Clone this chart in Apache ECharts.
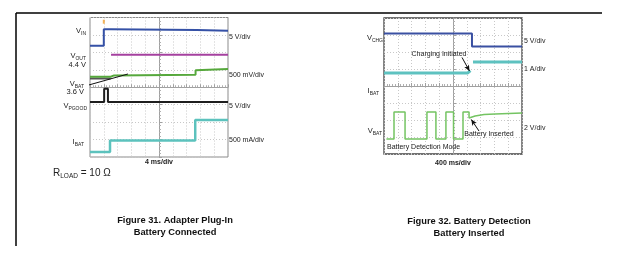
<!DOCTYPE html>
<html><head><meta charset="utf-8">
<script src="https://cdn.jsdelivr.net/npm/echarts@6/dist/echarts.min.js"></script>
<style>html,body{margin:0;padding:0;background:#fff}#c{width:620px;height:266px}</style>
</head><body><div id="c"></div>
<script>
// ---- Figure 31 : x = ms from screen centre (4 ms/div), y = divisions from centre ----
const f31_VIN = [[-20,2.38],[-16,2.38],[-16,3.32],[-14,3.32],[-14,3.28],[11,3.28],[11,3.24],[20,3.24]];
const f31_TRIG = [[-16,3.76]];
const f31_VOUT = [[-13.9,1.86],[20,1.86]];
const f31_VBAT_SHADOW = [[-20,0.5],[-14,0.5]];
const f31_VBAT = [[-20,0.6],[-14,0.6],[-13,0.68],[10.6,0.72],[10.6,0.98],[20,1.05]];
const f31_VPGOOD = [[-20,-0.85],[-15.9,-0.85],[-15.9,-0.08],[-14.8,-0.08],[-14.8,-0.85],[20,-0.85]];
const f31_IBAT = [[-20,-3.71],[-14.2,-3.71],[-14.2,-3.05],[10.5,-3.05],[10.5,-1.88],[20,-1.88]];
const f31_POINTER = [[-21.4,0.07],[-9,0.76]];
const f31_LEFT = ['V|IN','V|OUT','4.4 V','V|BAT','3.6 V','V|PGOOD','I|BAT'];
const f31_RIGHT = ['5 V/div','500 mV/div','5 V/div','500 mA/div'];
const f31_TIMEBASE = '4 ms/div';

// ---- Figure 32 : x = ms from screen centre (400 ms/div) ----
const f32_VCHG = [[-2000,3.09],[550,3.09],[550,2.32],[2000,2.32]];
const f32_IBAT_BEFORE = [[-2000,0.76],[430,0.77],[505,0.9]];
const f32_IBAT_AFTER = [[580,1.41],[2000,1.41]];
const f32_VBAT = [[-1930,-3.12],[-1710,-3.12],[-1710,-1.53],[-1390,-1.53],[-1390,-3.12],[-755,-3.12],[-755,-1.53],[-495,-1.53],[-495,-3.12],[-205,-3.12],[-205,-1.53],[15,-1.53],[15,-3.12],[290,-3.12],[290,-1.53],[465,-1.53],[465,-1.88],[640,-1.76],[900,-1.68],[1220,-1.64],[2000,-1.59]];
const f32_ARROW_CHG = [[261,1.68],[478,0.88]];
const f32_ARROW_INS = [[754,-2.65],[530,-1.97]];
const f32_LEFT = ['V|CHG','I|BAT','V|BAT'];
const f32_RIGHT = ['5 V/div','1 A/div','2 V/div'];
const f32_TIMEBASE = '400 ms/div';
const f32_NOTES = ['Charging Initiated','Battery Inserted','Battery Detection Mode'];

const CAPTIONS = [['Figure 31. Adapter Plug-In','Battery Connected'],['Figure 32. Battery Detection','Battery Inserted']];

const FONT = 'Liberation Sans, Arial, sans-serif';
const chart = echarts.init(document.getElementById('c'));

function axisX(idx, lim, iv){
  return {gridIndex:idx,type:'value',min:-lim,max:lim,interval:iv,
    axisLine:{show:true,onZero:true,lineStyle:{color:'#a0a0a0',width:1}},
    axisTick:{show:true,inside:true,length:3,lineStyle:{color:'#a0a0a0'}},
    minorTick:{show:true,splitNumber:5,length:2,lineStyle:{color:'#b0b0b0'}},
    axisLabel:{show:false},
    splitLine:{show:true,lineStyle:{color:'#c8c8c8',type:[1,2],width:1}}};
}
function axisY(idx){
  return {gridIndex:idx,type:'value',min:-4,max:4,interval:1,
    axisLine:{show:true,onZero:true,lineStyle:{color:'#a0a0a0',width:1}},
    axisTick:{show:true,inside:true,length:3,lineStyle:{color:'#a0a0a0'}},
    minorTick:{show:true,splitNumber:5,length:2,lineStyle:{color:'#b0b0b0'}},
    axisLabel:{show:false},
    splitLine:{show:true,lineStyle:{color:'#c8c8c8',type:[1,2],width:1}}};
}
function trace(idx, data, color, width, z){
  return {type:'line',xAxisIndex:idx,yAxisIndex:idx,data:data,showSymbol:false,symbol:'none',
    lineStyle:{color:color,width:width},itemStyle:{color:color},z:z||3,silent:true,animation:false};
}
const rich = {
  m:{fontSize:7.5,fontFamily:FONT,fill:'#222',color:'#222',lineHeight:10,verticalAlign:'top'},
  s:{fontSize:5,fontFamily:FONT,color:'#222',lineHeight:10,padding:[4,0,0,0],verticalAlign:'top'}
};
function lbl(s){
  if(s.indexOf('|')<0) return '{m|'+s+'}';
  const p=s.split('|'); return '{m|'+p[0]+'}{s|'+p[1]+'}';
}
function txt(x,y,s,opt){
  opt=opt||{};
  return {type:'text',x:x,y:y,silent:true,z:10,style:{text:s,rich:opt.rich,fill:opt.fill||'#222',
    font:opt.font||('7px '+FONT),align:opt.align||'left',verticalAlign:opt.va||'middle'}};
}
const graphics = [
  {type:'line',shape:{x1:16,y1:13,x2:602,y2:13},style:{stroke:'#000',lineWidth:1.5},silent:true},
  {type:'line',shape:{x1:16,y1:13,x2:16,y2:246},style:{stroke:'#000',lineWidth:1.5},silent:true}
];
// Fig 31 left labels
const f31LeftPos = [[86,32],[86,57],[86,65.5],[84,85],[84,93],[87,107],[84,143]];
f31_LEFT.forEach((s,i)=>graphics.push(txt(f31LeftPos[i][0],f31LeftPos[i][1],lbl(s),{rich:rich,align:'right'})));
const f31RightY = [37,75,106,140];
f31_RIGHT.forEach((s,i)=>graphics.push(txt(229,f31RightY[i],s)));
graphics.push(txt(159,162,f31_TIMEBASE,{font:'bold 7px '+FONT,align:'center'}));
graphics.push(txt(53,174,'{r|R}{rs|LOAD}{r| = 10 Ω}',{rich:{
  r:{fontSize:10,fontFamily:FONT,color:'#222',lineHeight:12,verticalAlign:'top'},
  rs:{fontSize:6.5,fontFamily:FONT,color:'#222',lineHeight:12,padding:[5,0,0,0],verticalAlign:'top'}}}));
// Fig 32 labels
const f32LeftPos = [[383,39],[379,92],[382,132]];
f32_LEFT.forEach((s,i)=>graphics.push(txt(f32LeftPos[i][0],f32LeftPos[i][1],lbl(s),{rich:rich,align:'right'})));
const f32RightY = [41,69,128];
f32_RIGHT.forEach((s,i)=>graphics.push(txt(524,f32RightY[i],s)));
graphics.push(txt(453,163,f32_TIMEBASE,{font:'bold 7px '+FONT,align:'center'}));
graphics.push(txt(439,54,f32_NOTES[0],{align:'center'}));
graphics.push(txt(489,134,f32_NOTES[1],{align:'center'}));
graphics.push(txt(387,147.5,f32_NOTES[2],{align:'left'}));
// captions
const capX=[175,469], capY=[[220,232],[221,233]];
CAPTIONS.forEach((c,i)=>c.forEach((s,j)=>graphics.push(txt(capX[i],capY[i][j],s,{font:'bold 9.3px '+FONT,align:'center',fill:'#111'}))));

const arrowML = (pts)=>({silent:true,symbol:['none','arrow'],symbolSize:[4,6],label:{show:false},
  lineStyle:{color:'#111',width:1,type:'solid'},
  data:[[{coord:pts[0]},{coord:pts[1]}]]});

const series = [
  trace(0,f31_VBAT_SHADOW,'#555',2,2),
  trace(0,f31_VBAT,'#56a83c',2),
  trace(0,f31_VIN,'#3551a6',2),
  trace(0,f31_VOUT,'#a5409f',2),
  trace(0,f31_VPGOOD,'#1e1e1e',2),
  trace(0,f31_IBAT,'#5cc2bd',2.5),
  Object.assign(trace(0,f31_POINTER,'#111',1,5),{clip:false}),
  {type:'scatter',xAxisIndex:0,yAxisIndex:0,data:f31_TRIG,symbol:'rect',symbolSize:[2,4],itemStyle:{color:'#f0a030'},silent:true,animation:false},
  Object.assign(trace(1,f32_VCHG,'#3a50a2',2),{markLine:arrowML(f32_ARROW_CHG)}),
  trace(1,f32_IBAT_BEFORE,'#5ec2c0',3),
  trace(1,f32_IBAT_AFTER,'#5ec2c0',3),
  Object.assign(trace(1,f32_VBAT,'#74c462',1.5),{markLine:arrowML(f32_ARROW_INS)})
];

chart.setOption({
  animation:false,
  backgroundColor:'#fff',
  grid:[
    {left:90,top:17.5,width:138,height:139.5,show:true,borderColor:'#8a8a8a',borderWidth:1,backgroundColor:'#fff'},
    {left:384,top:18,width:138,height:136,show:true,borderColor:'#444',borderWidth:1.3,backgroundColor:'#fff'}
  ],
  xAxis:[axisX(0,20,4),axisX(1,2000,400)],
  yAxis:[axisY(0),axisY(1)],
  series:series,
  graphic:graphics
});
</script></body></html>
